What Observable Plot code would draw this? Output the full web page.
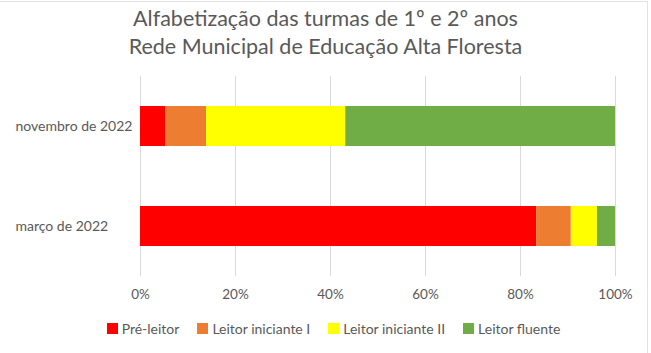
<!DOCTYPE html>
<html>
<head>
<meta charset="utf-8">
<script src="https://cdn.jsdelivr.net/npm/d3@7"></script>
<script src="https://cdn.jsdelivr.net/npm/@observablehq/plot@0.6"></script>
<style>
  html, body { margin: 0; padding: 0; background: #fff; }
  #wrap { position: relative; width: 651px; height: 353px; overflow: hidden; font-family: Lato, "Open Sans", sans-serif; color: #595959; }
  #frame { position: absolute; left: 0; top: 1px; width: 647px; height: 360px; border-top: 1px solid #e3e3e3; border-right: 1px solid #e3e3e3; }
  #title { position: absolute; left: 0; top: 4px; width: 651px; text-align: center; font-size: 21.5px; line-height: 28px; }
  #chart { position: absolute; left: 0; top: 62px; }
  #legend { position: absolute; left: 8px; top: 320px; width: 651px; display: flex; justify-content: center; gap: 18px; font-size: 14px; }
  .item { display: flex; align-items: center; }
  .sw { width: 11px; height: 11px; margin-right: 4px; }
</style>
</head>
<body>
<div id="wrap">
  <div id="frame"></div>
  <div id="title">Alfabetização das turmas de 1º e 2º anos<br>Rede Municipal de Educação Alta Floresta</div>
  <div id="chart"></div>
  <div id="legend"></div>
</div>
<script>
const categories = ["novembro de 2022", "março de 2022"];
const series = ["Pré-leitor", "Leitor iniciante I", "Leitor iniciante II", "Leitor fluente"];
const novembro = [5.3, 8.6, 29.3, 56.8];
const marco = [83.4, 7.3, 5.5, 3.8];
const colors = ["#FF0000", "#ED7D31", "#FFFF00", "#70AD47"];
const xTicks = [0, 20, 40, 60, 80, 100];

const values = [novembro, marco];
const data = [];
categories.forEach((c, i) => series.forEach((s, j) => data.push({cat: c, serie: s, value: values[i][j]})));

const chart = Plot.plot({
  width: 651,
  height: 248,
  marginTop: 14,
  marginBottom: 34,
  marginLeft: 140,
  marginRight: 36,
  style: {fontFamily: "Lato, 'Open Sans', sans-serif", fontSize: "13.5px", color: "#595959", background: "transparent"},
  x: {domain: [0, 100], ticks: xTicks, tickFormat: d => d + "%", tickSize: 0, tickPadding: 13, label: null},
  y: {domain: categories, paddingInner: 0.6, paddingOuter: 0.3, axis: null},
  color: {domain: series, range: colors},
  marks: [
    Plot.ruleX(xTicks, {stroke: "#d9d9d9", strokeWidth: 1}),
    Plot.barX(data, Plot.stackX({x: "value", y: "cat", fill: "serie", order: series})),
    Plot.text(categories, {y: d => d, frameAnchor: "left", textAnchor: "start", dx: -125, fill: "#595959", fontSize: 14})
  ]
});
document.getElementById("chart").appendChild(chart);

const legend = document.getElementById("legend");
series.forEach((s, i) => {
  const it = document.createElement("div");
  it.className = "item";
  const sw = document.createElement("div");
  sw.className = "sw";
  sw.style.background = colors[i];
  const t = document.createElement("span");
  t.textContent = s;
  it.appendChild(sw);
  it.appendChild(t);
  legend.appendChild(it);
});
</script>
</body>
</html>
